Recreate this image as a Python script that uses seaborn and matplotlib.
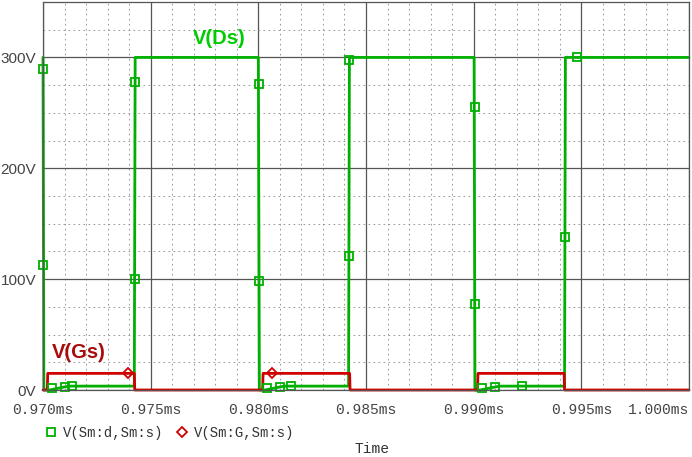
import pandas as pd
import matplotlib
matplotlib.use('Agg')
import matplotlib.pyplot as plt
import seaborn as sns
from matplotlib.ticker import MultipleLocator, FuncFormatter
from matplotlib.lines import Line2D

# waveform samples (time in ms, volts)
ds_t = [0.97000, 0.97004, 0.97030, 0.97120, 0.97424, 0.97428, 0.98000, 0.98005,
        0.98030, 0.98120, 0.98419, 0.98423, 0.99002, 0.99006, 0.99030, 0.99120,
        0.99422, 0.99426, 1.00000]
ds_v = [300, 0, 0, 3.5, 3.5, 300, 300, 0, 0, 3.5, 3.5, 300, 300, 0, 0, 3.5, 3.5, 300, 300]

gs_t = [0.97000, 0.97020, 0.97022, 0.97424, 0.97426, 0.98020, 0.98022, 0.98424,
        0.98426, 0.99018, 0.99020, 0.99420, 0.99422, 1.00000]
gs_v = [0, 0, 15, 15, 0, 0, 15, 15, 0, 0, 15, 15, 0, 0]

# marker samples drawn by the simulator
ds_mark_t = [0.97000, 0.97000, 0.97427, 0.97427, 0.98003, 0.98003, 0.98421, 0.98421,
             0.99004, 0.99004, 0.99425, 0.99480, 0.97040, 0.97100, 0.97135,
             0.98040, 0.98100, 0.98150, 0.99040, 0.99100, 0.99225]
ds_mark_v = [290, 113, 278, 100, 276, 98, 298, 121, 255, 78, 138, 300,
             1.5, 3, 3.5, 1.5, 3, 3.5, 1.5, 3, 3.5]
gs_mark_t = [0.97395, 0.98064]
gs_mark_v = [15, 15]

x_ticks = [0.970, 0.975, 0.980, 0.985, 0.990, 0.995, 1.000]
y_ticks = [0, 100, 200, 300]

green = '#00b000'
red = '#d00000'

sns.set_style('white')
plt.rcParams['font.family'] = ['Liberation Sans', 'DejaVu Sans']

df = pd.concat([
    pd.DataFrame({'t': ds_t, 'v': ds_v, 'trace': 'V(Sm:d,Sm:s)'}),
    pd.DataFrame({'t': gs_t, 'v': gs_v, 'trace': 'V(Sm:G,Sm:s)'}),
])

fig = plt.figure(figsize=(6.92, 4.57), dpi=100)
ax = fig.add_axes([43/692, 1 - 390/457, (689 - 43)/692, (390 - 2)/457])

sns.lineplot(data=df, x='t', y='v', hue='trace',
             palette={'V(Sm:d,Sm:s)': green, 'V(Sm:G,Sm:s)': red},
             estimator=None, sort=False, lw=2.0, legend=False, ax=ax)
for ln in ax.lines:
    ln.set_clip_on(False)

ax.plot(ds_mark_t, ds_mark_v, ls='none', marker='s', ms=6, mfc='none',
        mec=green, mew=1.3, clip_on=False)
ax.plot(gs_mark_t, gs_mark_v, ls='none', marker='D', ms=5, mfc='none',
        mec=red, mew=1.3, clip_on=False)

ax.set_xlim(0.970, 1.000)
ax.set_ylim(0, 350)
ax.set_xticks(x_ticks)
ax.set_yticks(y_ticks)
ax.xaxis.set_minor_locator(MultipleLocator(0.001))
ax.yaxis.set_minor_locator(MultipleLocator(25))
ax.xaxis.set_major_formatter(FuncFormatter(lambda x, p: f'{x:.3f}ms'))
ax.yaxis.set_major_formatter(FuncFormatter(lambda y, p: f'{int(y)}V'))

ax.set_axisbelow(True)
ax.grid(which='major', color='#555555', lw=0.9, ls='-')
ax.grid(which='minor', color='#888888', lw=0.6, ls=(0, (2, 4)))
ax.tick_params(which='major', direction='out', length=5, width=0.9, color='#333333')
ax.tick_params(which='minor', length=0)
ax.tick_params(axis='x', pad=4, labelcolor='#444444')
ax.tick_params(axis='y', pad=0, labelcolor='#444444', labelsize=11)
xlabels = ax.get_xticklabels()
for lab in xlabels:
    lab.set_family('Liberation Mono')
    lab.set_fontsize(10.5)
xlabels[-1].set_horizontalalignment('right')
for s in ax.spines.values():
    s.set_color('#555555')
    s.set_linewidth(0.9)
ax.set_xlabel('')
ax.set_ylabel('')

ax.text(0.97697, 317, 'V(Ds)', color='#00cc00', fontsize=14.5, fontweight='bold', va='center')
ax.text(0.97042, 34, 'V(Gs)', color='#a80c0c', fontsize=14.5, fontweight='bold', va='center')

handles = [
    Line2D([], [], ls='none', marker='s', ms=6, mfc='none', mec=green, mew=1.3),
    Line2D([], [], ls='none', marker='D', ms=5, mfc='none', mec=red, mew=1.3),
]
fig.legend(handles, ['V(Sm:d,Sm:s)', 'V(Sm:G,Sm:s)'], loc='center left',
           bbox_to_anchor=(0.045, 1 - 433/457), ncol=2, frameon=False,
           prop={'family': 'Liberation Mono', 'size': 10}, handlelength=1,
           handletextpad=0.4, columnspacing=0.8, labelcolor='#333333')
fig.text(372/692, 1 - 449/457, 'Time', ha='center', va='center',
         family='Liberation Mono', fontsize=10.5, color='#333333')

fig.savefig('out.png', dpi=100)
